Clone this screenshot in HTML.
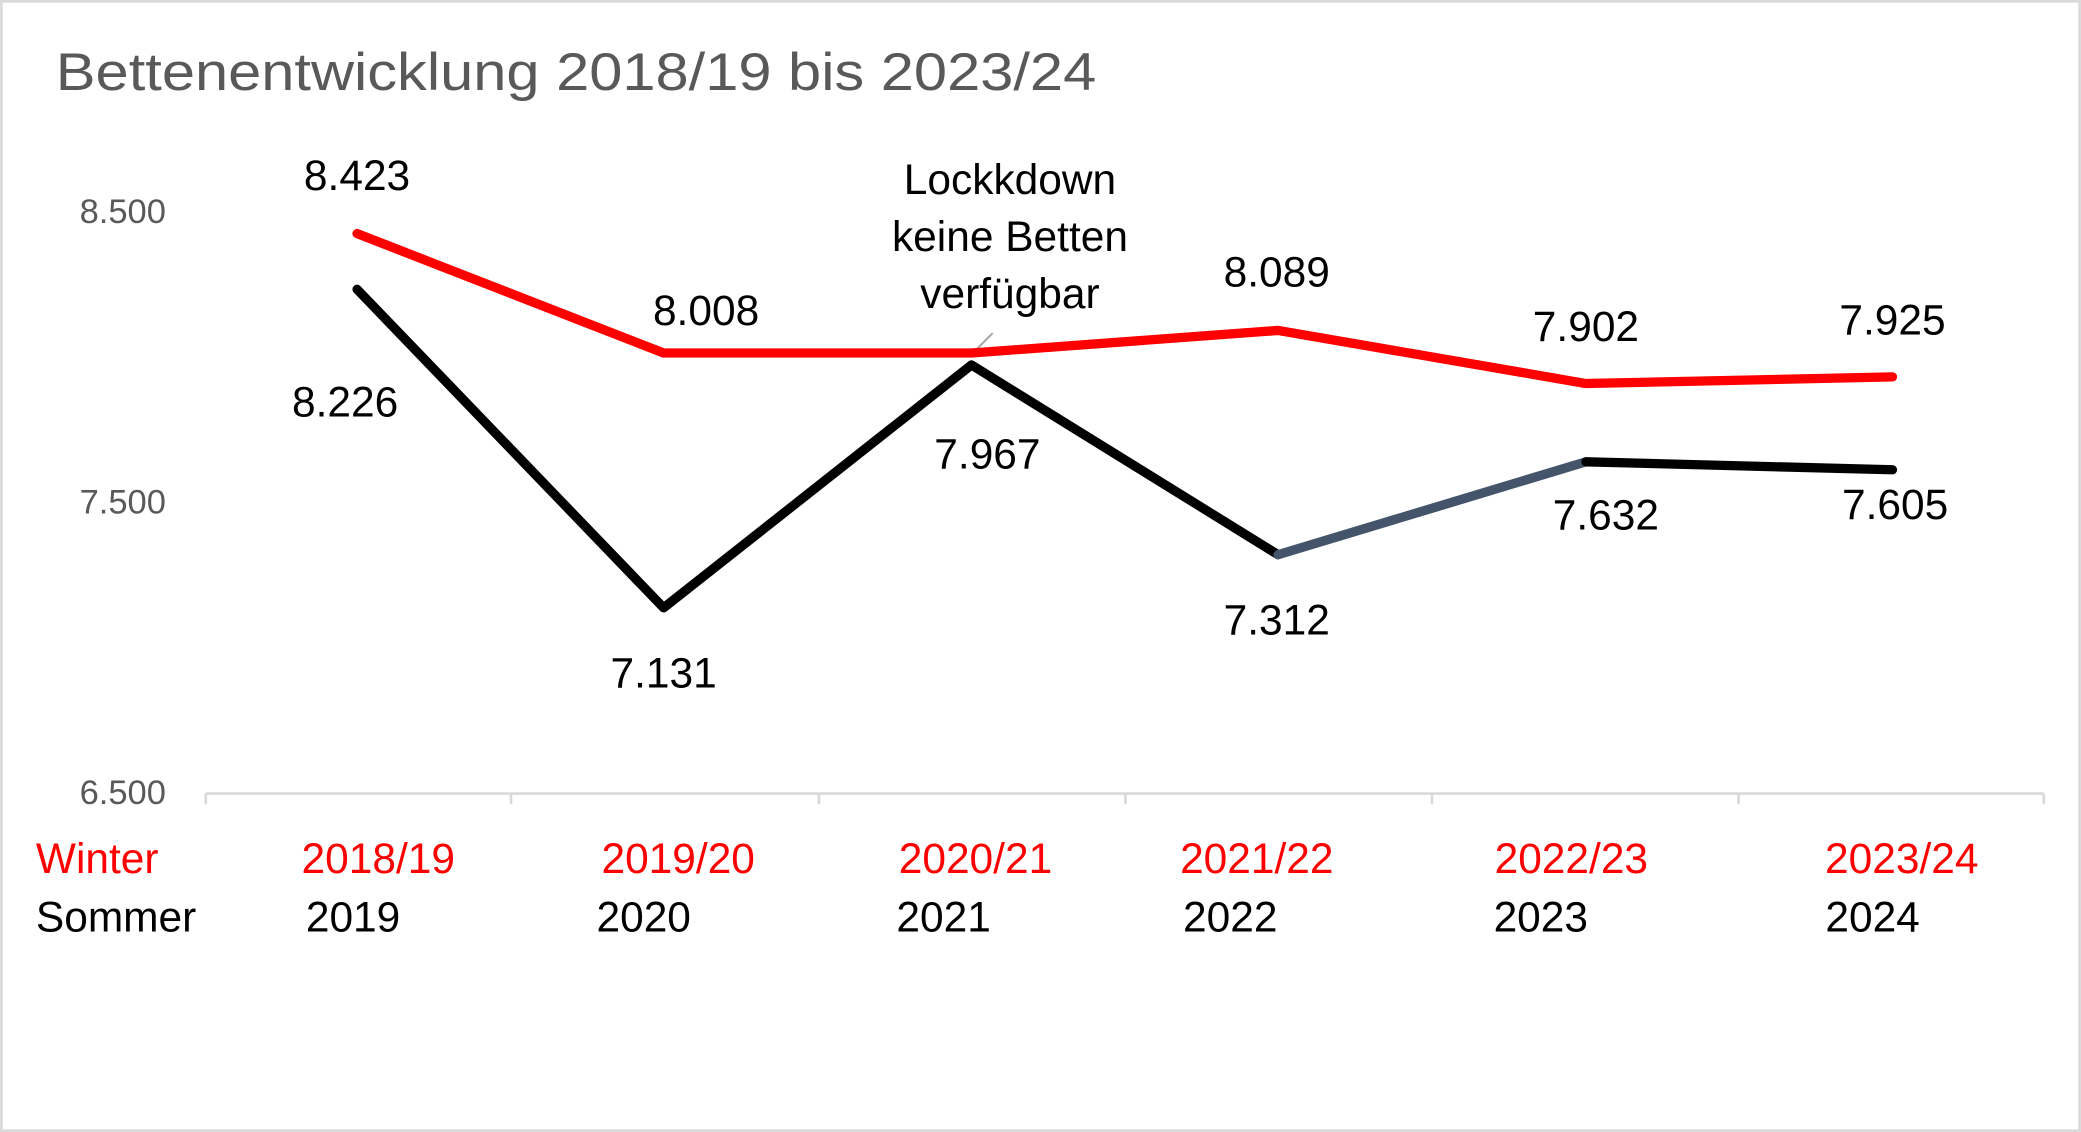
<!DOCTYPE html>
<html><head><meta charset="utf-8"><style>
html,body{margin:0;padding:0;background:#fff;}
svg{display:block;}
text{font-family:"Liberation Sans",sans-serif;}
</style></head><body>
<svg width="2081" height="1132" viewBox="0 0 1568 853" xmlns="http://www.w3.org/2000/svg">
<rect x="1" y="1" width="1566" height="851" fill="#fff" stroke="#d9d9d9" stroke-width="2"/>
<text x="42" y="68" font-size="40" fill="#595959" textLength="784" lengthAdjust="spacingAndGlyphs">Bettenentwicklung 2018/19 bis 2023/24</text>
<g font-size="26" fill="#595959" text-anchor="end">
<text x="125" y="168">8.500</text>
<text x="125" y="387">7.500</text>
<text x="125" y="606">6.500</text>
</g>
<g stroke="#d9d9d9" stroke-width="2">
<line x1="155" y1="598" x2="1540" y2="598"/>
<line x1="155" y1="598" x2="155" y2="606"/><line x1="385" y1="598" x2="385" y2="606"/>
<line x1="617" y1="598" x2="617" y2="606"/><line x1="848" y1="598" x2="848" y2="606"/>
<line x1="1079" y1="598" x2="1079" y2="606"/><line x1="1310" y1="598" x2="1310" y2="606"/>
<line x1="1540" y1="598" x2="1540" y2="606"/>
</g>
<line x1="748" y1="251" x2="733" y2="266" stroke="#a6a6a6" stroke-width="1.5"/>
<polyline points="269,176 500,266 732,266 963,249 1195,289 1426,284" fill="none" stroke="#ff0000" stroke-width="7" stroke-linecap="round" stroke-linejoin="round"/>
<polyline points="269,218 500,458 732,275 963,418" fill="none" stroke="#000" stroke-width="7" stroke-linecap="round" stroke-linejoin="round"/>
<line x1="963" y1="418" x2="1195" y2="348" stroke="#44546a" stroke-width="7" stroke-linecap="round"/>
<line x1="1195" y1="348" x2="1426" y2="354" stroke="#000" stroke-width="7" stroke-linecap="round"/>
<g font-size="32" fill="#000" text-anchor="middle">
<text x="269" y="143">8.423</text>
<text x="532" y="245">8.008</text>
<text x="962" y="216">8.089</text>
<text x="1195" y="257">7.902</text>
<text x="1426" y="252">7.925</text>
<text x="260" y="314">8.226</text>
<text x="500" y="518">7.131</text>
<text x="744" y="353">7.967</text>
<text x="962" y="478">7.312</text>
<text x="1210" y="399">7.632</text>
<text x="1428" y="391">7.605</text>
<text x="761" y="146">Lockkdown</text>
<text x="761" y="189">keine Betten</text>
<text x="761" y="232">verfügbar</text>
</g>
<g font-size="32" fill="#ff0000">
<text x="27" y="658">Winter</text>
<text x="285" y="658" text-anchor="middle">2018/19</text>
<text x="511" y="658" text-anchor="middle">2019/20</text>
<text x="735" y="658" text-anchor="middle">2020/21</text>
<text x="947" y="658" text-anchor="middle">2021/22</text>
<text x="1184" y="658" text-anchor="middle">2022/23</text>
<text x="1433" y="658" text-anchor="middle">2023/24</text>
</g>
<g font-size="32" fill="#000">
<text x="27" y="702">Sommer</text>
<text x="266" y="702" text-anchor="middle">2019</text>
<text x="485" y="702" text-anchor="middle">2020</text>
<text x="711" y="702" text-anchor="middle">2021</text>
<text x="927" y="702" text-anchor="middle">2022</text>
<text x="1161" y="702" text-anchor="middle">2023</text>
<text x="1411" y="702" text-anchor="middle">2024</text>
</g>
</svg>
</body></html>
